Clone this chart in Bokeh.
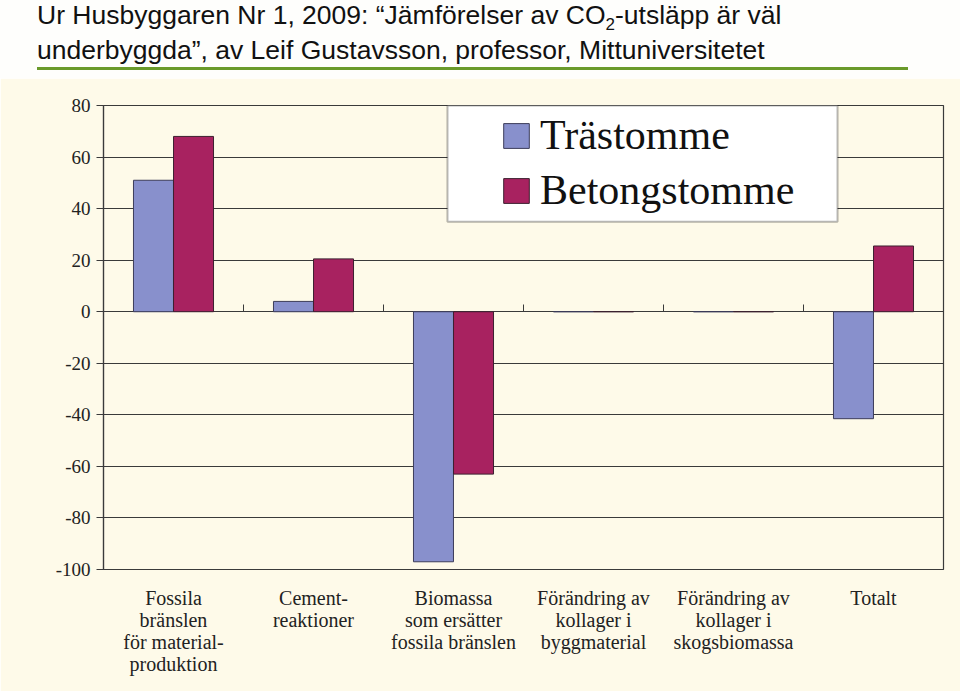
import math
from bokeh.plotting import figure
from bokeh.models import (Range1d, FixedTicker, LinearAxis, Legend, LegendItem,
                          BoxAnnotation, Label, ColumnDataSource, Div)
from bokeh.layouts import column
from bokeh.transform import dodge
from bokeh.embed import file_html
from bokeh.resources import INLINE

# ---------------- data ----------------
categories = [
    "Fossila\nbränslen\nför material-\nproduktion",
    "Cement-\nreaktioner",
    "Biomassa\nsom ersätter\nfossila bränslen",
    "Förändring av\nkollager i\nbyggmaterial",
    "Förändring av\nkollager i\nskogsbiomassa",
    "Totalt",
]
trastomme = [51, 4, -97, 0, 0, -41.5]
betongstomme = [68, 20.5, -63, 0, 0, 25.5]
series_names = ["Trästomme", "Betongstomme"]
y_ticks = [-100, -80, -60, -40, -20, 0, 20, 40, 60, 80]
y_label = "Nettoutsläpp av CO₂  ton C)"
title_line1 = "Ur Husbyggaren Nr 1, 2009: “Jämförelser av CO<sub>2</sub>-utsläpp är väl"
title_line2 = "underbyggda”, av Leif Gustavsson, professor, Mittuniversitetet"

BLUE = "#8890CC"
MAROON = "#A82260"
CREAM = "#FEFAE9"
DARK = "#3A3A3A"
SERIF = "Liberation Serif"

n = len(categories)
centers = [i + 0.5 for i in range(n)]

# ---------------- title block ----------------
line_style = ("position:absolute;left:37px;white-space:nowrap;line-height:30px;"
              "font-family:'Liberation Sans';font-size:26.5px;color:#111111;")
title_html = (
    '<div style="position:relative;width:960px;height:78px;background:#FEFEFC;margin:0;">'
    f'<div style="{line_style}top:0px;">{title_line1.replace("<sub>", "<sub style=\'font-size:17px;line-height:0;\'>")}</div>'
    f'<div style="{line_style}top:35px;">{title_line2}</div>'
    '<div style="position:absolute;left:37px;top:67px;width:871px;height:3px;background:#6A9A2A;"></div>'
    '</div>'
)
t = Div(text=title_html, width=960, height=78, margin=0)

# ---------------- main chart ----------------
src = ColumnDataSource(dict(xc=centers, tra=trastomme, bet=betongstomme))

p = figure(width=960, height=613, x_range=Range1d(0, n),
           y_range=Range1d(-100, 80), toolbar_location=None, output_backend="svg",
           x_axis_location=None,
           min_border_top=27, min_border_left=103, min_border_right=17, min_border_bottom=122)
p.background_fill_color = CREAM
p.border_fill_color = CREAM
p.outline_line_color = DARK
p.outline_line_width = 1.2

r1 = p.vbar(x=dodge("xc", -0.143), top="tra", bottom=0, width=0.2857,
            source=src, fill_color=BLUE, line_color="#3C3C5A", line_width=1)
r2 = p.vbar(x=dodge("xc", 0.143), top="bet", bottom=0, width=0.2857,
            source=src, fill_color=MAROON, line_color="#3C2030", line_width=1)

# grid
p.xgrid.visible = False
p.ygrid.ticker = FixedTicker(ticks=y_ticks)
p.ygrid.grid_line_color = DARK
p.ygrid.grid_line_width = 1.2

# y axis
ya = p.yaxis[0]
ya.ticker = FixedTicker(ticks=y_ticks)
ya.major_label_overrides = {v: str(v) for v in y_ticks}
ya.axis_line_color = DARK
ya.axis_line_width = 1.2
ya.major_tick_line_color = DARK
ya.major_tick_out = 7
ya.major_tick_in = 0
ya.minor_tick_line_color = None
ya.major_label_text_font = SERIF
ya.major_label_text_font_size = "19px"
ya.major_label_text_color = "#222222"
ya.major_label_standoff = 6

# y axis title, placed left of the tick labels
p.add_layout(Label(x=-0.486, y=-19.8, text=y_label, angle=math.pi / 2,
                   text_font=SERIF, text_font_size="19.5px", text_color="#222222",
                   text_align="center", text_baseline="middle"))

# x axis (category labels)
xa = LinearAxis(ticker=FixedTicker(ticks=centers),
                major_label_overrides={c: lab for c, lab in zip(centers, categories)})
xa.axis_line_color = None
xa.major_tick_line_color = None
xa.minor_tick_line_color = None
xa.major_label_text_font = SERIF
xa.major_label_text_font_size = "20px"
xa.major_label_text_line_height = 1.0
xa.major_label_text_color = "#222222"
xa.major_label_standoff = 11
p.add_layout(xa, "below")

# tick marks at category boundaries on the zero line
bounds = list(range(1, n))
za = LinearAxis(fixed_location=0, ticker=FixedTicker(ticks=bounds),
                major_label_overrides={b: "" for b in bounds})
za.axis_line_color = None
za.major_tick_line_color = DARK
za.major_tick_out = 7
za.major_tick_in = 0
za.minor_tick_line_color = None
p.add_layout(za, "above")

# legend box + legend
p.add_layout(BoxAnnotation(left=2.457, right=5.243, top=80, bottom=34.9,
                           fill_color="white", fill_alpha=1, line_color="#111111", line_width=2))
legend = Legend(items=[LegendItem(label=series_names[0], renderers=[r1]),
                       LegendItem(label=series_names[1], renderers=[r2])],
                location=(397, 355), padding=0, spacing=7, label_standoff=8,
                glyph_width=32, glyph_height=31,
                label_text_font=SERIF, label_text_font_size="42px",
                label_text_color="#111111",
                border_line_alpha=0, background_fill_alpha=0)
p.add_layout(legend)

layout = column(t, p, spacing=0)
open("out.html", "w").write(file_html(layout, INLINE))
